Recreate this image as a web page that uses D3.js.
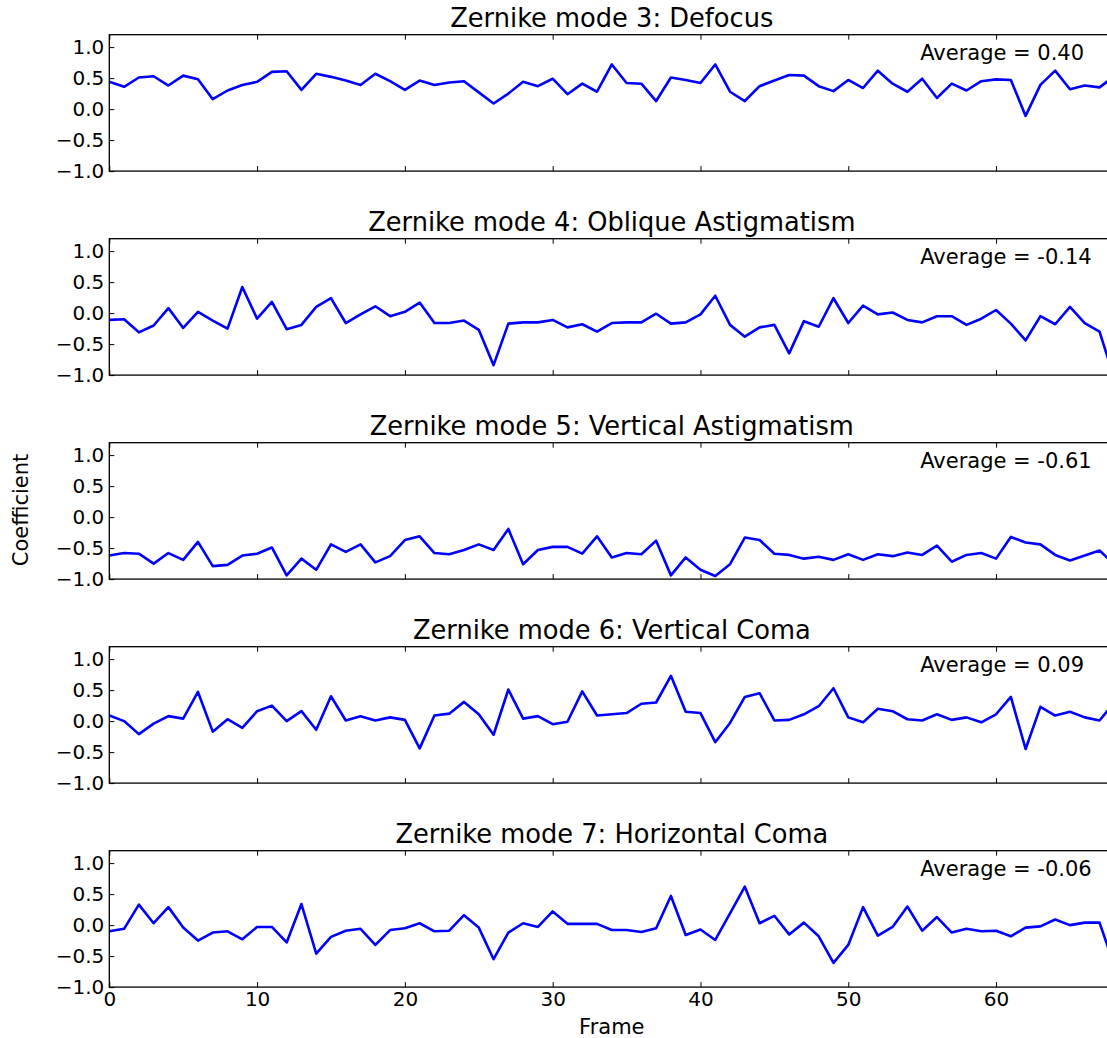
<!DOCTYPE html>
<html>
<head>
<meta charset="utf-8">
<script src="https://cdn.jsdelivr.net/npm/d3@7"></script>
<style>
  body { margin: 0; background: #fff; }
  svg { display: block; }
  text { font-family: "DejaVu Sans", sans-serif; fill: #000; }
</style>
</head>
<body>
<svg id="chart" width="1107" height="1038"></svg>
<script>
// Zernike coefficients per frame (index = frame number)
const defocus = [0.44, 0.36, 0.51, 0.53, 0.38, 0.54, 0.48, 0.16, 0.30, 0.39,
  0.44, 0.60, 0.61, 0.31, 0.57, 0.52, 0.46, 0.39, 0.57, 0.45,
  0.31, 0.46, 0.39, 0.43, 0.45, 0.27, 0.09, 0.25, 0.44, 0.37,
  0.49, 0.24, 0.41, 0.28, 0.72, 0.42, 0.41, 0.13, 0.51, 0.47,
  0.42, 0.72, 0.28, 0.13, 0.37, 0.46, 0.55, 0.54, 0.37, 0.29,
  0.47, 0.34, 0.62, 0.41, 0.28, 0.49, 0.18, 0.41, 0.30, 0.45,
  0.48, 0.47, -0.11, 0.39, 0.62, 0.32, 0.38, 0.35, 0.53];

const obliqueAstigmatism = [-0.11, -0.10, -0.31, -0.20, 0.08, -0.24, 0.02, -0.12, -0.25, 0.42,
  -0.09, 0.18, -0.26, -0.19, 0.10, 0.24, -0.16, -0.02, 0.11, -0.05,
  0.02, 0.17, -0.16, -0.16, -0.12, -0.27, -0.84, -0.17, -0.15, -0.15,
  -0.11, -0.23, -0.18, -0.30, -0.16, -0.15, -0.15, -0.01, -0.17, -0.15,
  -0.02, 0.28, -0.19, -0.38, -0.23, -0.19, -0.65, -0.13, -0.22, 0.24,
  -0.16, 0.12, -0.02, 0.01, -0.11, -0.15, -0.05, -0.05, -0.19, -0.09,
  0.05, -0.17, -0.44, -0.05, -0.18, 0.10, -0.16, -0.30, -1.05];

const verticalAstigmatism = [-0.62, -0.58, -0.59, -0.75, -0.58, -0.69, -0.40, -0.79, -0.77, -0.62,
  -0.59, -0.49, -0.94, -0.67, -0.85, -0.44, -0.56, -0.44, -0.73, -0.63,
  -0.37, -0.31, -0.58, -0.60, -0.53, -0.44, -0.53, -0.19, -0.76, -0.53,
  -0.48, -0.48, -0.59, -0.31, -0.65, -0.58, -0.60, -0.38, -0.94, -0.65,
  -0.85, -0.95, -0.76, -0.33, -0.37, -0.59, -0.61, -0.67, -0.64, -0.69,
  -0.60, -0.69, -0.60, -0.63, -0.57, -0.61, -0.46, -0.72, -0.61, -0.58,
  -0.67, -0.32, -0.41, -0.44, -0.61, -0.70, -0.62, -0.54, -0.76];

const verticalComa = [0.09, 0.00, -0.21, -0.04, 0.08, 0.04, 0.47, -0.17, 0.03, -0.11,
  0.16, 0.25, 0.00, 0.16, -0.14, 0.40, 0.01, 0.08, 0.01, 0.06,
  0.02, -0.44, 0.09, 0.12, 0.31, 0.11, -0.22, 0.51, 0.04, 0.08,
  -0.05, -0.01, 0.48, 0.09, 0.11, 0.13, 0.28, 0.30, 0.73, 0.15,
  0.13, -0.34, -0.03, 0.39, 0.45, 0.01, 0.02, 0.11, 0.24, 0.53,
  0.06, -0.02, 0.20, 0.16, 0.03, 0.01, 0.11, 0.02, 0.06, -0.02,
  0.11, 0.39, -0.45, 0.23, 0.09, 0.15, 0.06, 0.01, 0.30];

const horizontalComa = [-0.10, -0.06, 0.33, 0.03, 0.29, -0.04, -0.25, -0.12, -0.10, -0.23,
  -0.03, -0.03, -0.28, 0.34, -0.46, -0.19, -0.09, -0.06, -0.32, -0.08,
  -0.05, 0.03, -0.10, -0.09, 0.16, -0.04, -0.55, -0.12, 0.03, -0.03,
  0.22, 0.02, 0.02, 0.02, -0.08, -0.08, -0.11, -0.05, 0.47, -0.16,
  -0.07, -0.24, 0.19, 0.62, 0.03, 0.15, -0.15, 0.04, -0.18, -0.61,
  -0.32, 0.29, -0.17, -0.03, 0.30, -0.09, 0.13, -0.12, -0.06, -0.10,
  -0.09, -0.18, -0.04, -0.02, 0.09, 0.00, 0.04, 0.04, -0.65];

const series = [defocus, obliqueAstigmatism, verticalAstigmatism, verticalComa, horizontalComa];
const titles = [
  "Zernike mode 3: Defocus",
  "Zernike mode 4: Oblique Astigmatism",
  "Zernike mode 5: Vertical Astigmatism",
  "Zernike mode 6: Vertical Coma",
  "Zernike mode 7: Horizontal Coma"
];
const averages = ["0.40", "-0.14", "-0.61", "0.09", "-0.06"];
const xTicks = [0, 10, 20, 30, 40, 50, 60];
const yTicks = [-1.0, -0.5, 0.0, 0.5, 1.0];

const svg = d3.select("#chart");
const left = 109.3, right = 1114.3;
const panelTop0 = 34.7, panelStep = 204, panelH = 136.4;

const x = d3.scaleLinear().domain([0, 68]).range([left, right]);
const fmt = d3.format(".1f");

series.forEach((vals, k) => {
  const top = panelTop0 + panelStep * k;
  const bottom = top + panelH;
  const y = d3.scaleLinear().domain([-1, 1.2]).range([bottom, top]);
  const g = svg.append("g");

  const clipId = "clip" + k;
  svg.append("clipPath").attr("id", clipId)
    .append("rect").attr("x", left).attr("y", top)
    .attr("width", right - left).attr("height", panelH);

  // data line
  const line = d3.line().x((d, i) => x(i)).y(d => y(d));
  g.append("path").datum(vals)
    .attr("clip-path", `url(#${clipId})`)
    .attr("fill", "none")
    .attr("stroke", "#0000ff")
    .attr("stroke-width", 2.6)
    .attr("stroke-linejoin", "round")
    .attr("d", line);

  // left axis with inward ticks
  const ya = g.append("g").attr("transform", `translate(${left},0)`)
    .call(d3.axisLeft(y).tickValues(yTicks).tickSizeInner(-5).tickSizeOuter(0)
      .tickPadding(5).tickFormat(fmt));
  ya.select(".domain").remove();
  ya.selectAll("text").style("font-size", "20px").attr("font-family", null);
  ya.selectAll("line").attr("stroke", "#000").attr("stroke-width", 1);

  // bottom axis
  const xa = g.append("g").attr("transform", `translate(0,${bottom})`)
    .call(d3.axisBottom(x).tickValues(xTicks).tickSizeInner(-5).tickSizeOuter(0)
      .tickPadding(5).tickFormat(k === series.length - 1 ? d3.format("d") : ""));
  xa.select(".domain").remove();
  xa.selectAll("text").style("font-size", "20px").attr("font-family", null);

  // top axis ticks
  const ta = g.append("g").attr("transform", `translate(0,${top})`)
    .call(d3.axisTop(x).tickValues(xTicks).tickSizeInner(-5).tickSizeOuter(0).tickFormat(""));
  ta.select(".domain").remove();

  // frame
  g.append("rect")
    .attr("x", left).attr("y", top)
    .attr("width", right - left).attr("height", panelH)
    .attr("fill", "none").attr("stroke", "#000").attr("stroke-width", 1.3);

  // title
  g.append("text")
    .attr("x", (left + right) / 2).attr("y", top - 8)
    .attr("text-anchor", "middle")
    .style("font-size", "25.7px")
    .text(titles[k]);

  // average annotation
  g.append("text")
    .attr("x", x(55) - 2).attr("y", y(0.8))
    .style("font-size", "21px")
    .text("Average = " + averages[k]);
});

// axis labels
svg.append("text")
  .attr("transform", "translate(28,510) rotate(-90)")
  .attr("text-anchor", "middle")
  .style("font-size", "21px")
  .text("Coefficient");

svg.append("text")
  .attr("x", (left + right) / 2).attr("y", 1034)
  .attr("text-anchor", "middle")
  .style("font-size", "21px")
  .text("Frame");
</script>
</body>
</html>
